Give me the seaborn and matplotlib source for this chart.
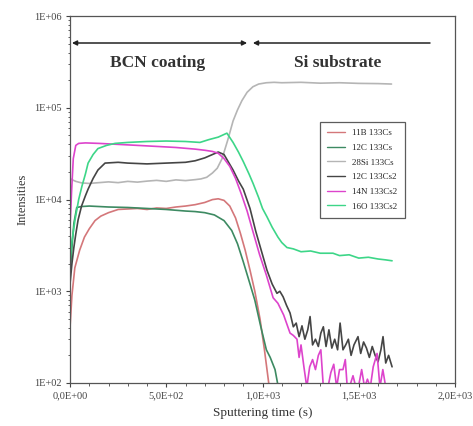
import matplotlib
matplotlib.use('Agg')
import matplotlib.pyplot as plt
import matplotlib.ticker as mticker
import numpy as np
import pandas as pd
import seaborn as sns

# SIMS depth profile
b11_t = [0, 10, 25, 50, 75, 100, 130, 160, 200, 250, 300, 350, 400, 450, 500, 550,
         600, 650, 700, 740, 770, 800, 830, 860, 885, 910, 935, 960, 987, 1010, 1035]
b11_v = [400, 900, 1800, 2800, 3900, 4800, 5900, 6600, 7200, 7800, 7900, 8000, 7800,
         8100, 8000, 8300, 8500, 8800, 9300, 10000, 10200, 9800, 8500, 6300, 4300,
         2800, 1700, 1000, 500, 230, 90]

c12_t = [0, 10, 20, 35, 60, 100, 150, 200, 300, 400, 500, 600, 650, 700, 750, 800,
         840, 870, 900, 935, 960, 990, 1020, 1040, 1065, 1082]
c12_v = [1500, 3000, 5500, 8200, 8400, 8500, 8400, 8300, 8200, 8000, 7800, 7500,
         7400, 7200, 6800, 5900, 4600, 3300, 2100, 1200, 800, 420, 230, 190, 140, 90]

si28_t = [0, 10, 30, 60, 100, 150, 200, 250, 300, 350, 400, 450, 500, 550, 600, 650,
          680, 710, 740, 765, 790, 820, 847, 870, 893, 920, 950, 980, 1020, 1060,
          1100, 1200, 1300, 1400, 1500, 1600, 1670]
si28_v = [17000, 16500, 15800, 15200, 15000, 15300, 15600, 15300, 15800, 15500,
          15900, 16200, 15800, 16400, 16100, 16500, 16800, 17500, 19500, 22000,
          28000, 45000, 72000, 95000, 120000, 148000, 170000, 182000, 188000,
          190000, 188000, 190000, 186000, 188000, 185000, 184000, 182000]

c12cs2_t = [0, 10, 20, 30, 42, 60, 80, 94, 120, 145, 182, 250, 300, 400, 500, 600,
            650, 700, 740, 770, 800, 847, 875, 900, 935, 965, 1000, 1023, 1050, 1075,
            1090, 1107, 1125, 1143, 1160, 1175, 1190, 1205, 1220, 1235, 1247, 1260,
            1275, 1290, 1303, 1316, 1330, 1345, 1360, 1375, 1390, 1403, 1418, 1432,
            1446, 1460, 1475, 1496, 1510, 1525, 1540, 1555, 1570, 1585, 1600, 1615,
            1626, 1640, 1655, 1673]
c12cs2_v = [1200, 2000, 3000, 4200, 6000, 8500, 11000, 13000, 17000, 21000, 25000,
            25500, 25000, 24500, 25000, 25500, 26500, 28500, 31000, 33000, 31000,
            21000, 16000, 13000, 8000, 4500, 2500, 1700, 1200, 950, 1000, 870, 700,
            580, 410, 450, 320, 420, 300, 380, 530, 260, 300, 250, 350, 410, 250, 380,
            240, 300, 230, 450, 230, 260, 300, 200, 260, 320, 210, 280, 240, 190, 250,
            200, 170, 230, 320, 165, 200, 150]

n14_t = [0, 8, 17, 30, 45, 80, 150, 250, 350, 450, 550, 650, 700, 740, 770, 800, 830,
         860, 890, 920, 950, 985, 1020, 1055, 1080, 1110, 1143, 1160, 1179, 1190, 1200,
         1215, 1230, 1245, 1260, 1275, 1290, 1303, 1316, 1325, 1340, 1355, 1370, 1385,
         1400, 1418, 1430, 1440, 1455, 1470, 1485, 1500, 1515, 1530, 1545, 1560, 1575,
         1595, 1610, 1625, 1640, 1650]
n14_v = [5000, 12000, 28000, 39000, 41000, 41500, 41000, 40000, 39000, 38000, 37000,
         35500, 34500, 33500, 32000, 28000, 23000, 17000, 11500, 7500, 4500, 2500,
         1500, 850, 740, 550, 350, 330, 300, 190, 260, 150, 90, 150, 180, 140, 200,
         230, 90, 95, 90, 130, 160, 90, 140, 140, 180, 90, 95, 120, 90, 95, 140, 90,
         110, 90, 150, 210, 90, 140, 90, 90]

o16_t = [0, 10, 26, 45, 62, 80, 94, 120, 145, 190, 234, 300, 400, 500, 600, 675, 720,
         770, 815, 847, 875, 900, 930, 951, 980, 1000, 1023, 1050, 1080, 1100, 1127,
         1160, 1200, 1250, 1300, 1366, 1400, 1450, 1500, 1550, 1600, 1640, 1673]
o16_v = [2100, 3500, 6000, 10000, 14000, 19000, 25000, 31000, 36000, 39000, 41000,
         42000, 43000, 43500, 43000, 42000, 45000, 48000, 53000, 42000, 33000, 26000,
         19000, 15000, 10500, 8000, 6500, 5000, 3900, 3400, 3000, 2900, 2700, 2750,
         2600, 2600, 2450, 2500, 2300, 2350, 2250, 2200, 2150]

series = [
    ("11B 133Cs", b11_t, b11_v),
    ("12C 133Cs", c12_t, c12_v),
    ("28Si 133Cs", si28_t, si28_v),
    ("12C 133Cs2", c12cs2_t, c12cs2_v),
    ("14N 133Cs2", n14_t, n14_v),
    ("16O 133Cs2", o16_t, o16_v),
]
colors = {
    "11B 133Cs": "#d4777a",
    "12C 133Cs": "#3d8a62",
    "28Si 133Cs": "#b5b5b5",
    "12C 133Cs2": "#454545",
    "14N 133Cs2": "#dd44cc",
    "16O 133Cs2": "#3dd688",
}

rows = []
for name, ts, vs in series:
    for t, v in zip(ts, vs):
        rows.append({"time": t, "intensity": v, "ion": name})
df = pd.DataFrame(rows)

sns.set_theme(style="white")
plt.rcParams['font.family'] = ['Liberation Serif', 'DejaVu Serif']

fig, ax = plt.subplots(figsize=(4.73, 4.26), dpi=100)
fig.subplots_adjust(left=0.148, right=0.962, bottom=0.101, top=0.962)

sns.lineplot(data=df, x="time", y="intensity", hue="ion", palette=colors,
             estimator=None, sort=False, linewidth=1.2, ax=ax)

ax.set_yscale('log')
ax.set_xlim(0, 2000)
ax.set_ylim(100, 1e6)

ax.xaxis.set_major_locator(mticker.MultipleLocator(500))
ax.xaxis.set_minor_locator(mticker.MultipleLocator(100))
ax.xaxis.set_major_formatter(mticker.FuncFormatter(lambda v, p: f"{v:.1E}".replace('.', ',')))
ax.yaxis.set_major_locator(mticker.LogLocator(base=10))
ax.yaxis.set_minor_locator(mticker.LogLocator(base=10, subs=np.arange(2, 10)))
ax.yaxis.set_major_formatter(mticker.FuncFormatter(lambda v, p: f"{v:.0E}"))
ax.yaxis.set_minor_formatter(mticker.NullFormatter())

ax.tick_params(which='major', direction='out', length=3, width=0.8, labelsize=7.5,
               colors='#444444', left=True, bottom=True, pad=3)
ax.tick_params(which='minor', direction='out', length=1.8, width=0.6,
               left=True, bottom=True, colors='#444444')
for s in ax.spines.values():
    s.set_color('#555555')
    s.set_linewidth(0.9)

ax.set_xlabel("Sputtering time (s)", fontsize=9.5, color='#333333', labelpad=5)
ax.set_ylabel("Intensities", fontsize=9, color='#333333', labelpad=4)

# region arrows and labels
ax.annotate("", xy=(10, 5.1e5), xytext=(920, 5.1e5),
            arrowprops=dict(arrowstyle='<|-|>', color='#222222', lw=1.1,
                            mutation_scale=7, shrinkA=0, shrinkB=0))
ax.annotate("", xy=(950, 5.1e5), xytext=(1870, 5.1e5),
            arrowprops=dict(arrowstyle='-|>', color='#222222', lw=1.1,
                            mutation_scale=7, shrinkA=0, shrinkB=0))
ax.text(455, 3.1e5, "BCN coating", ha='center', va='center', fontsize=12.5,
        fontweight='bold', color='#333333')
ax.text(1390, 3.1e5, "Si substrate", ha='center', va='center', fontsize=12.5,
        fontweight='bold', color='#333333')

leg = ax.legend(loc='upper left', bbox_to_anchor=(0.65, 0.712), fontsize=6.5,
                frameon=True, fancybox=False, edgecolor='#333333',
                handlelength=1.9, labelspacing=0.7, borderpad=0.8,
                handletextpad=0.85, borderaxespad=0, title=None)
leg.get_frame().set_linewidth(0.9)
for line in leg.get_lines():
    line.set_linewidth(1.0)

plt.savefig("out.png", dpi=100)
